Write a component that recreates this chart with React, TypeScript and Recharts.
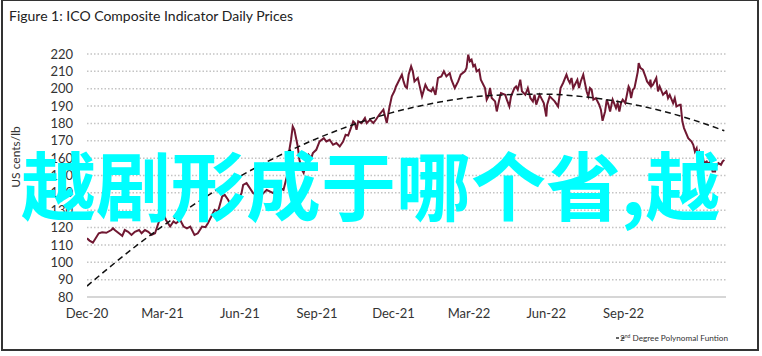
import React from 'react';
import { LineChart, Line, XAxis, YAxis, CartesianGrid } from 'recharts';

const title = 'Figure 1: ICO Composite Indicator Daily Prices';
const yAxisTitle = 'US cents/lb';
const legendLead = '2';
const legendSup = 'nd';
const legendRest = ' Degree Polynomal Funtion';
const overlayText = '越剧形成于哪个省,越';

// days since 1 Dec 2020
const xTickDays = [0, 90, 182, 274, 365, 455, 547, 639];
const xTickLabels = ['Dec-20', 'Mar-21', 'Jun-21', 'Sep-21', 'Dec-21', 'Mar-22', 'Jun-22', 'Sep-22'];
const yTicks = [80, 90, 100, 110, 120, 130, 140, 150, 160, 170, 180, 190, 200, 210, 220];

const priceDays = [
  0, 3, 7, 14, 18, 23, 29, 31, 33, 38,
  42, 45, 49, 53, 57, 62, 65, 69, 73, 77,
  81, 85, 90, 94, 99, 103, 106, 111, 115, 119,
  123, 128, 132, 137, 141, 144, 148, 152, 156, 161,
  164, 168, 172, 176, 180, 184, 186, 190, 198, 206,
  214, 222, 227, 234, 238, 241, 243, 245, 247, 249,
  251, 253, 256, 258, 262, 264, 267, 269, 273, 277,
  282, 285, 289, 293, 297, 301, 305, 308, 311, 315,
  317, 319, 321, 323, 327, 331, 333, 337, 341, 344,
  348, 353, 355, 357, 360, 363, 366, 368, 372, 375,
  377, 379, 381, 383, 386, 388, 390, 394, 399, 403,
  406, 410, 412, 415, 418, 422, 425, 428, 432, 434,
  438, 442, 445, 450, 452, 454, 456, 458, 460, 462,
  464, 467, 469, 474, 476, 478, 480, 482, 486, 488,
  491, 493, 498, 500, 503, 505, 509, 511, 513, 516,
  518, 522, 525, 528, 531, 533, 535, 539, 541, 544,
  547, 548, 551, 555, 557, 561, 564, 567, 571, 573,
  575, 577, 579, 581, 584, 586, 588, 591, 593, 595,
  597, 599, 601, 603, 606, 610, 612, 614, 617, 619,
  621, 623, 625, 626, 630, 632, 634, 636, 638, 641,
  643, 645, 646, 648, 650, 652, 654, 656, 657, 659,
  662, 665, 667, 670, 671, 672, 674, 678, 680, 682,
  686, 690, 692, 694, 698, 700, 702, 706, 707, 709,
  711, 716, 720, 722, 724, 726, 727, 729, 731, 733,
  735, 738, 740, 742, 745, 748, 749, 752, 755, 757,
  759,
];

const prices = [
  113.8, 112.5, 111.3, 116.7, 117.3, 117.0, 118.6, 119.6, 118.6, 116.7,
  115.2, 118.6, 117.6, 115.8, 117.6, 118.6, 116.7, 118.6, 117.6, 115.8,
  116.7, 122.5, 129.2, 124.4, 120.6, 123.5, 122.5, 124.4, 120.6, 119.6,
  120.6, 115.8, 116.7, 120.6, 120.2, 122.5, 126.3, 130.2, 129.2, 137.9,
  138.8, 136.0, 132.1, 136.9, 135.8, 139.8, 144.6, 145.6, 139.8, 137.9,
  141.7, 139.8, 143.7, 141.7, 149.4, 164.8, 170.6, 178.3, 176.3, 171.5,
  166.7, 159.0, 153.3, 151.5, 159.0, 161.9, 160.0, 162.9, 164.8, 169.6,
  171.5, 169.6, 170.6, 167.7, 168.7, 166.7, 169.6, 173.5, 173.0, 178.3,
  181.2, 180.2, 176.3, 181.2, 180.2, 183.1, 180.2, 182.1, 180.2, 182.1,
  185.0, 187.9, 184.0, 180.2, 188.8, 195.6, 198.5, 201.3, 205.2, 208.1,
  204.2, 201.3, 200.4, 208.0, 212.9, 210.0, 204.2, 206.2, 195.6, 202.3,
  199.4, 198.5, 200.4, 196.5, 206.2, 207.1, 210.0, 207.1, 209.0, 205.2,
  200.4, 204.2, 208.1, 210.0, 211.9, 219.6, 215.8, 216.7, 212.9, 213.8,
  210.0, 211.0, 205.2, 200.4, 193.7, 195.6, 200.4, 194.6, 192.7, 186.9,
  193.7, 197.5, 196.5, 193.7, 189.8, 195.6, 200.4, 201.3, 199.4, 205.2,
  198.5, 196.5, 200.4, 194.6, 192.7, 196.5, 190.8, 196.5, 194.6, 191.7,
  184.0, 190.8, 195.6, 193.7, 192.7, 189.8, 200.4, 203.3, 208.1, 205.2,
  203.3, 206.2, 200.4, 202.3, 205.2, 200.4, 204.2, 208.1, 203.3, 198.5,
  195.6, 200.4, 199.4, 193.7, 194.6, 190.8, 187.9, 181.5, 186.9, 193.7,
  190.8, 186.9, 191.7, 193.7, 188.8, 191.7, 186.9, 191.7, 193.7, 191.7,
  196.5, 201.3, 200.4, 194.6, 199.4, 200.4, 205.2, 210.0, 214.8, 212.0,
  211.0, 207.1, 204.2, 202.3, 205.2, 201.3, 202.3, 206.2, 198.5, 201.3,
  196.5, 198.5, 194.6, 196.5, 191.7, 194.6, 189.8, 190.8, 190.8, 181.2,
  177.3, 171.5, 169.6, 167.7, 163.8, 165.7, 161.9, 163.8, 159.0, 161.0,
  157.1, 158.1, 156.2, 158.1, 152.3, 152.3, 155.2, 157.1, 156.2, 158.1,
  159.0,
];

const trendDays = [0, 60, 120, 180, 240, 300, 360, 420, 480, 540, 600, 660, 720, 759];
const trendValues = [86.3, 110.0, 130.9, 148.9, 164.0, 176.3, 185.8, 192.3, 196.1, 196.9, 194.9, 190.0, 182.3, 175.8];

type Row = { day: number; price?: number; trend?: number };
const rows: Row[] = [];
for (let i = 0; i < Math.min(priceDays.length, prices.length); i++) {
  rows.push({ day: priceDays[i], price: prices[i] });
}
for (let i = 0; i < trendDays.length; i++) {
  rows.push({ day: trendDays[i], trend: trendValues[i] });
}
rows.sort((a, b) => a.day - b.day);

const FONT = 'Lato, "Open Sans", sans-serif';
const CJK = '"Noto Sans CJK SC", sans-serif';

export default function App() {
  return (
    <div style={{ position: 'absolute', left: 0, top: 0, width: 762, height: 356, background: '#fff', overflow: 'hidden' }}>
      <div
        style={{
          position: 'absolute', left: 1, top: 0, width: 754, height: 348,
          borderLeft: '2px solid #333', borderRight: '2px solid #333',
          borderBottom: '2px solid #333', borderTop: '1px solid #333',
        }}
      />
      <LineChart
        width={762}
        height={356}
        data={rows}
        margin={{ top: 54, right: 36, bottom: 0, left: 0 }}
        style={{ position: 'absolute', left: 0, top: 0 }}
      >
        <CartesianGrid vertical={false} stroke="#c4c4c4" strokeWidth={1.5} strokeDasharray="1.5 2" />
        <XAxis
          dataKey="day"
          type="number"
          domain={[0, 761]}
          ticks={xTickDays}
          tickFormatter={(d: number) => xTickLabels[xTickDays.indexOf(d)] ?? ''}
          height={59}
          axisLine={{ stroke: '#d6d6d6', strokeWidth: 2 }}
          tickLine={false}
          tickMargin={6}
          interval={0}
          tick={{ fill: '#333', fontSize: 13, fontFamily: FONT }}
          allowDataOverflow
        />
        <YAxis
          type="number"
          domain={[80, 220]}
          ticks={yTicks}
          width={87}
          axisLine={false}
          tickLine={false}
          tickMargin={8}
          interval={0}
          tick={{ fill: '#333', fontSize: 13, fontFamily: FONT }}
        />
        <Line
          dataKey="price"
          type="linear"
          stroke="#701832"
          strokeWidth={2}
          dot={false}
          connectNulls
          isAnimationActive={false}
        />
        <Line
          dataKey="trend"
          type="monotone"
          stroke="#111"
          strokeWidth={1.5}
          strokeDasharray="6 4"
          dot={false}
          connectNulls
          isAnimationActive={false}
        />
      </LineChart>
      <svg width={762} height={356} style={{ position: 'absolute', left: 0, top: 0, pointerEvents: 'none' }}>
        <text x={9} y={21} fontSize={14} fontFamily={FONT} fill="#222">{title}</text>
        <text
          x={15}
          y={157}
          transform="rotate(-90 15 157)"
          textAnchor="middle"
          dominantBaseline="central"
          fontSize={12}
          fontFamily={FONT}
          fill="#333"
        >
          {yAxisTitle}
        </text>
        <line x1={616} y1={338} x2={627} y2={338} stroke="#333" strokeWidth={1.3} strokeDasharray="3 2.5" />
        <text x={728} y={341} textAnchor="end" fontSize={8.2} fontFamily={FONT} fill="#333">
          {legendLead}
          <tspan fontSize={5} dy={-3}>{legendSup}</tspan>
          <tspan dy={3}>{legendRest}</tspan>
        </text>
        <text x={21} y={215} fontSize={75} fontWeight={700} fontFamily={CJK} fill="#00FFFF">{overlayText}</text>
      </svg>
    </div>
  );
}
